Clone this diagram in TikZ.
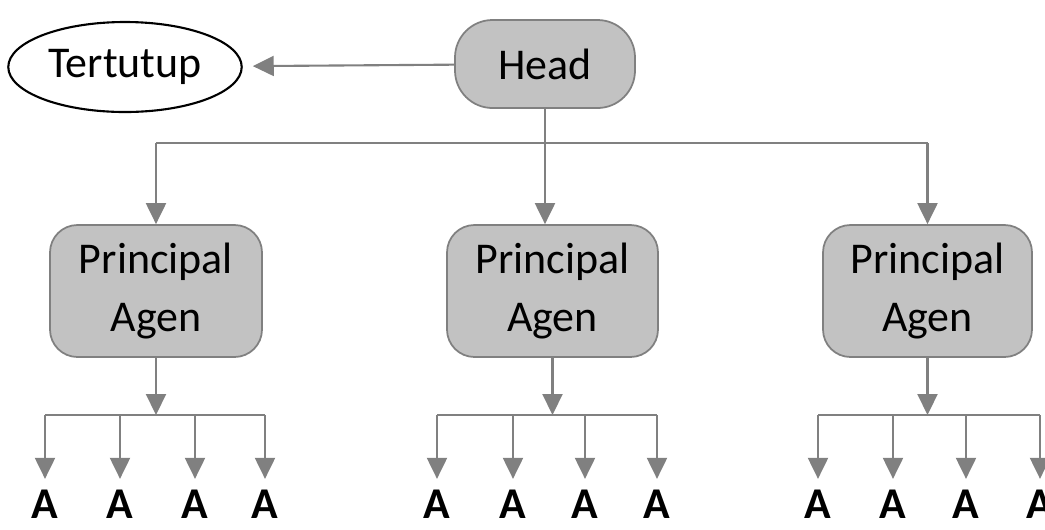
\documentclass[tikz,border=0pt]{standalone}
\usepackage{fontspec}
\setmainfont{Carlito}
\usetikzlibrary{arrows.meta,shapes.geometric,calc}
\definecolor{isi}{HTML}{C2C2C2}
\definecolor{garis}{HTML}{808080}

\begin{document}
\begin{tikzpicture}[
	font=\fontsize{25}{33}\selectfont,
	boks/.style={draw=garis, fill=isi, line width=1pt, rounded corners=0.55cm, align=center},
	tutup/.style={ellipse, draw=black, line width=1.2pt, minimum width=4.4cm, minimum height=1.8cm},
	agen/.style={inner sep=6pt, font=\fontsize{25}{33}\selectfont\bfseries},
	jalur/.style={draw=garis, line width=1.2pt},
	panah/.style={jalur, -{Triangle[width=0.4cm,length=0.42cm]}}
]
	\useasboundingbox (0, 0) rectangle (20.9, -10.58);
	\node[tutup] (tertutup) at (2.5, -1.34) {Tertutup};
	\node[boks, rounded corners=0.75cm, minimum width=3.6cm, minimum height=1.76cm] (head) at (10.9, -1.28) {Head};
	\node[boks, minimum width=4.24cm, minimum height=2.64cm] (pa1) at (3.12, -5.82) {Principal\\Agen};
	\node[boks, minimum width=4.22cm, minimum height=2.64cm] (pa2) at (11.05, -5.82) {Principal\\Agen};
	\node[boks, minimum width=4.18cm, minimum height=2.64cm] (pa3) at (18.55, -5.82) {Principal\\Agen};
	\coordinate (bus) at (0, -2.86);
	%%%%%
	\draw[panah, shorten >=0.2cm] (head) -- (tertutup);
	\draw[jalur] (head.south) -- (head.south |- bus);
	\draw[jalur] (pa1.north |- bus) -- (pa3.north |- bus);
	\draw[panah] (pa1.north |- bus) -- (pa1.north);
	\draw[panah] (head.south |- bus) -- (head.south |- pa2.north);
	\draw[panah] (pa3.north |- bus) -- (pa3.north);
	%%%%%
	\foreach \x [count=\i] in {0.9, 2.4, 3.9, 5.3, 8.74, 10.26, 11.7, 13.14, 16.36, 17.86, 19.32, 20.8}
		\node[agen] (a\i) at (\x, -10.08) {A};
	\foreach \p/\a/\b in {1/1/4, 2/5/8, 3/9/12} {
		\coordinate (bus\p) at (0, -8.3);
		\draw[panah] (pa\p.south) -- (pa\p.south |- bus\p);
		\draw[jalur] (a\a.north |- bus\p) -- (a\b.north |- bus\p);
		\foreach \i in {\a,...,\b}
			\draw[panah] (a\i.north |- bus\p) -- (a\i);
	}
\end{tikzpicture}
\end{document}
